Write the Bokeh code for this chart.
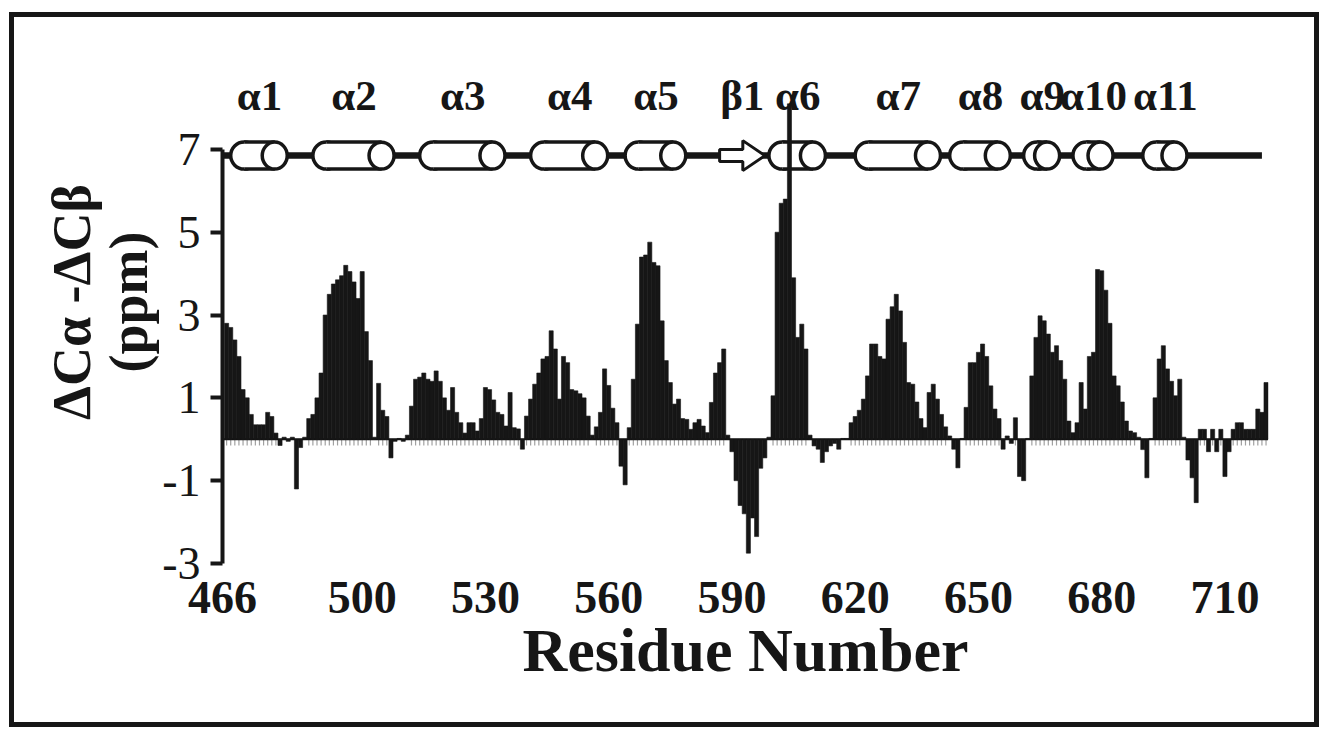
from bokeh.plotting import figure
from bokeh.models import FixedTicker, Range1d
from bokeh.core.properties import value
from bokeh.embed import file_html
from bokeh.resources import INLINE

# ---------------- data ----------------
first_residue = 467
delta = [
    2.8, 2.7, 2.4, 2.0, 1.2, 1.0, 0.6, 0.35, 0.35, 0.35,
    0.65, 0.55, 0.15, -0.15, 0.05, -0.05, 0.05, -1.2, -0.2, 0.05,
    0.5, 0.6, 1.0, 1.6, 3.0, 3.5, 3.75, 3.85, 3.95, 4.2,
    4.05, 3.8, 3.4, 4.05, 2.6, 1.9, 0.05, 1.35, 0.7, 0.55,
    -0.45, -0.05, 0.02, -0.05, 0.1, 0.8, 1.45, 1.5, 1.6, 1.45,
    1.4, 1.65, 1.4, 1.0, 0.7, 1.25, 0.65, 0.4, 0.15, 0.4,
    0.4, 0.2, 0.5, 1.25, 1.2, 0.95, 0.65, 0.6, 0.32, 1.13,
    0.28, 0.25, -0.24, 0.56, 0.97, 1.33, 1.6, 1.94, 2.0, 2.62,
    2.18, 0.97, 2.0, 1.85, 1.2, 1.17, 1.1, 1.0, 0.56, 0.1,
    0.3, 0.65, 1.7, 1.3, 0.75, 0.4, -0.65, -1.1, 0.28, 1.45,
    2.78, 4.4, 4.45, 4.76, 4.27, 4.19, 2.86, 1.9, 1.37, 0.85,
    0.97, 0.5, 0.48, 0.24, 0.4, 0.48, 0.32, 0.16, 0.89, 1.6,
    1.85, 2.18, 0.1, -0.3, -1.0, -1.6, -1.8, -2.75, -1.9, -2.35,
    -0.7, -0.45, 0.05, 1.05, 5.0, 5.7, 5.8, 8.1, 3.9, 2.46,
    2.78, 2.18, 0.1, -0.16, -0.24, -0.56, -0.3, -0.16, -0.1, -0.24,
    0.02, 0.02, 0.4, 0.55, 0.7, 0.97, 1.53, 2.3, 2.3, 2.0,
    1.94, 2.9, 3.2, 3.5, 3.1, 2.34, 1.37, 1.33, 0.9, 0.5,
    0.28, 1.13, 1.33, 0.97, 0.6, 0.3, 0.08, -0.24, -0.69, 0.02,
    0.77, 1.85, 1.85, 2.1, 2.3, 2.0, 1.29, 0.73, 0.5, -0.24,
    0.08, -0.1, 0.52, -0.9, -1.0, 0.02, 1.53, 2.46, 2.98, 2.86,
    2.54, 2.1, 2.26, 1.9, 1.45, 0.44, 0.16, 0.4, 1.37, 0.73,
    2.0, 2.1, 4.1, 4.07, 3.6, 2.8, 1.53, 1.29, 0.9, 0.44,
    0.2, 0.16, 0.05, -0.25, -0.93, 0.02, 1.0, 1.94, 2.26, 1.7,
    1.4, 1.05, 1.45, 0.05, -0.5, -0.93, -1.53, 0.24, 0.24, -0.3,
    0.24, -0.3, 0.24, -0.9, -0.3, 0.24, 0.4, 0.4, 0.24, 0.24,
    0.24, 0.73, 0.65, 1.37,
]
residues = list(range(first_residue, first_residue + len(delta)))

x_ticks = [466, 500, 530, 560, 590, 620, 650, 680, 710]
y_ticks = [-3, -1, 1, 3, 5, 7]
y_tick_text = {-3: "-3", -1: "-1", 1: "1", 3: "3", 5: "5", 7: "7"}

helix_names = ["α1", "α2", "α3", "α4", "α5", "α6", "α7", "α8", "α9", "α10", "α11"]
helix_start = [468, 488, 514, 541, 564, 599, 620, 643, 661, 673, 690]
helix_end = [482, 508, 535, 560, 579, 613, 641, 658, 670, 683, 701]
strand_names = ["β1"]
strand_start = [587]
strand_end = [598]
topology_start = 466
topology_end = 719
topology_y = 6.85
label_y = 8.3

# ---------------- layout ----------------
OFF_X, OFF_Y = 14, 17                     # page offset of the canvas (margin + border)
W, H = 1310, 715
X0, X1 = 466, 720.6
Y0, Y1 = -3, 9.63
BL, BT = 222 - OFF_X, 40 - OFF_Y
BR = W - (1268 - OFF_X)
BB = H - (563 - OFF_Y)
ppr = (W - BL - BR) / (X1 - X0)          # px per residue
ppu = (H - BT - BB) / (Y1 - Y0)          # px per ppm
FONT = "Liberation Serif"
INK = "#161616"

p = figure(width=W, height=H, output_backend="svg", toolbar_location=None,
           x_range=Range1d(X0, X1), y_range=Range1d(Y0, Y1),
           min_border_left=BL, min_border_right=BR, min_border_top=BT, min_border_bottom=BB)
p.styles = {"border": "5px solid #161616", "margin": "12px 0 0 9px",
            "box-sizing": "border-box", "overflow": "hidden"}
p.outline_line_color = None
p.grid.visible = False
p.background_fill_color = "white"
p.border_fill_color = "white"

# ---------------- topology diagram ----------------
p.segment(x0=[topology_start], y0=[topology_y], x1=[topology_end], y1=[topology_y],
          line_color=INK, line_width=6.5)

r_px = 13.5
r_x = r_px / ppr
h_y = r_px / ppu
left_c = [s + r_x for s in helix_start]
right_c = [e - r_x for e in helix_end]
body_c = [(s + e) / 2 for s, e in zip(helix_start, helix_end)]
body_w = [(e - s) - 2 * r_x for s, e in zip(helix_start, helix_end)]
ty = [topology_y] * len(helix_start)

p.ellipse(x=left_c, y=ty, width=2 * r_px, height=2 * r_px, width_units="screen",
          height_units="screen", fill_color="white", line_color=INK, line_width=3.5)
p.rect(x=body_c, y=ty, width=body_w, height=2 * r_px, height_units="screen",
       fill_color="white", line_color=None)
p.segment(x0=left_c, y0=[topology_y + h_y] * len(ty), x1=right_c, y1=[topology_y + h_y] * len(ty),
          line_color=INK, line_width=3.5)
p.segment(x0=left_c, y0=[topology_y - h_y] * len(ty), x1=right_c, y1=[topology_y - h_y] * len(ty),
          line_color=INK, line_width=3.5)
p.ellipse(x=right_c, y=ty, width=2 * r_px - 2, height=2 * r_px, width_units="screen",
          height_units="screen", fill_color="white", line_color=INK, line_width=3.5)

# beta strand arrows
shaft = 6 / ppu
head = 15 / ppu
head_len = 22 / ppr
axs, ays = [], []
for s, e in zip(strand_start, strand_end):
    axs.append([s, e - head_len, e - head_len, e, e - head_len, e - head_len, s])
    ays.append([topology_y - shaft, topology_y - shaft, topology_y - head, topology_y,
                topology_y + head, topology_y + shaft, topology_y + shaft])
p.patches(xs=axs, ys=ays, fill_color="white", line_color=INK, line_width=3)

# element labels
lab_x = body_c + [(s + e) / 2 for s, e in zip(strand_start, strand_end)]
lab_t = helix_names + strand_names
p.text(x=lab_x, y=[label_y] * len(lab_x), text=lab_t, text_font=value(FONT),
       text_font_style="bold", text_font_size="43px", text_align="center",
       text_baseline="middle", text_color=INK)

# ---------------- bars ----------------
pos_res = [r for r, v in zip(residues, delta) if v > 0.1]
p.segment(x0=pos_res, y0=[0] * len(pos_res), x1=pos_res, y1=[-0.15] * len(pos_res),
          line_color="#a0a0a0", line_width=1.2)
p.segment(x0=[X0], y0=[0], x1=[residues[-1] + 0.5], y1=[0], line_color=INK, line_width=2)
p.vbar(x=residues, top=delta, bottom=0, width=1.0, fill_color=INK,
       line_color=INK, line_width=0.6)

# ---------------- axes ----------------
p.yaxis.ticker = FixedTicker(ticks=y_ticks)
p.yaxis.major_label_overrides = y_tick_text
p.yaxis.bounds = (-3, 7)
p.yaxis.minor_tick_line_color = None
p.yaxis.axis_line_width = 4
p.yaxis.axis_line_color = INK
p.yaxis.major_tick_line_width = 4
p.yaxis.major_tick_line_color = INK
p.yaxis.major_tick_out = 12
p.yaxis.major_tick_in = 0
p.yaxis.major_label_standoff = 10
p.yaxis.major_label_text_font = FONT
p.yaxis.major_label_text_font_size = "46px"
p.yaxis.major_label_text_color = INK
p.yaxis.axis_label = "ΔCα -ΔCβ\n(ppm)"
p.yaxis.axis_label_text_font = FONT
p.yaxis.axis_label_text_font_style = "bold"
p.yaxis.axis_label_text_font_size = "54px"
p.yaxis.axis_label_text_line_height = 0.95
p.yaxis.axis_label_text_color = INK
p.yaxis.axis_label_standoff = 0

p.xaxis.ticker = FixedTicker(ticks=x_ticks)
p.xaxis.axis_line_color = None
p.xaxis.major_tick_line_color = None
p.xaxis.minor_tick_line_color = None
p.xaxis.major_label_standoff = 12
p.xaxis.major_label_text_font = FONT
p.xaxis.major_label_text_font_style = "bold"
p.xaxis.major_label_text_font_size = "46px"
p.xaxis.major_label_text_color = INK
p.xaxis.axis_label = "Residue Number"
p.xaxis.axis_label_text_font = FONT
p.xaxis.axis_label_text_font_style = "bold"
p.xaxis.axis_label_text_font_size = "62px"
p.xaxis.axis_label_text_color = INK
p.xaxis.axis_label_standoff = 0

open("out.html", "w").write(file_html(p, INLINE))
